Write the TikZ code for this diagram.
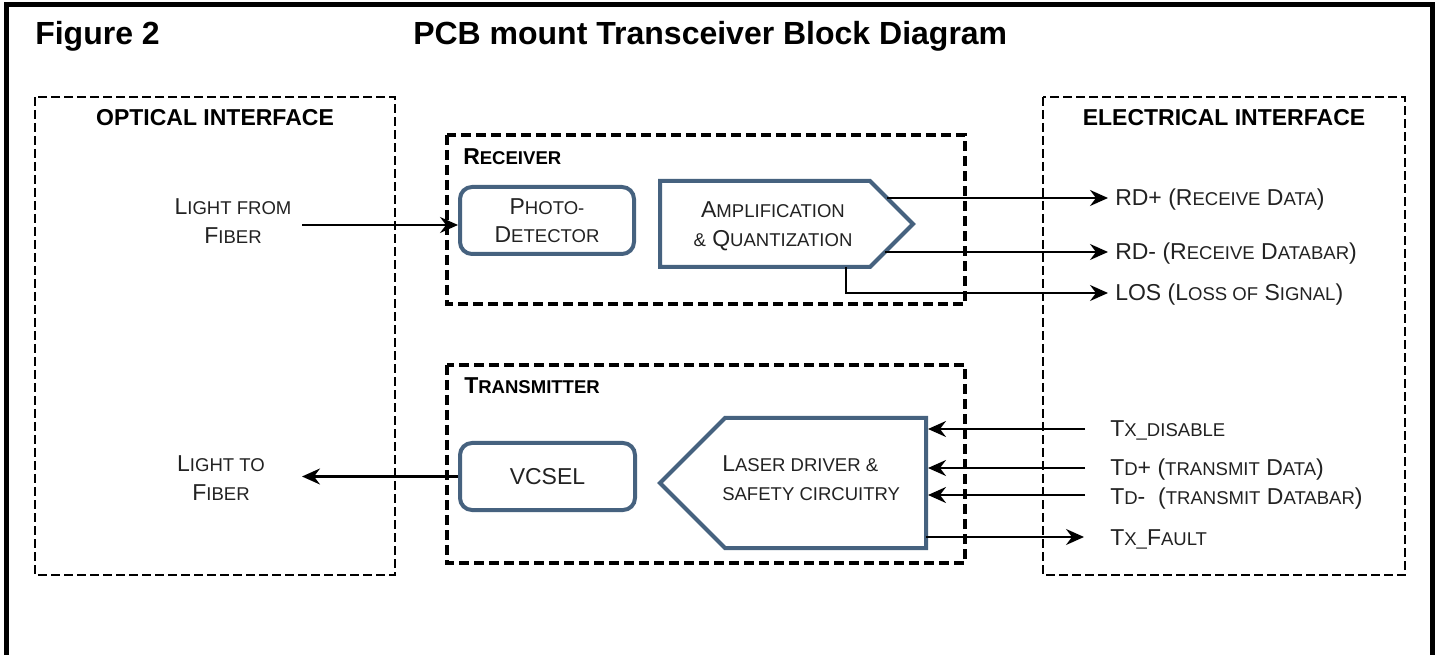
\documentclass[tikz,border=0pt]{standalone}
\usepackage{fontspec}
\setmainfont{Liberation Sans}
\usetikzlibrary{arrows.meta}
\definecolor{blk}{HTML}{46627F}
\definecolor{txt}{HTML}{222222}
\newcommand\Fn{\fontsize{17.25pt}{21.4pt}\selectfont}
\newcommand\sm[1]{{\fontsize{13.9pt}{21.4pt}\selectfont #1}}
\begin{document}
\begin{tikzpicture}[x=0.75pt,y=-0.75pt,
  frame/.style={line width=3.75pt},
  iface/.style={draw, line width=2pt, dash pattern=on 6.75pt off 3pt},
  sect/.style={draw, line width=3pt, dash pattern=on 7.5pt off 3.75pt},
  blockbox/.style={draw=blk, line width=3pt, rounded corners=9pt, fill=white, text=txt, font=\Fn, align=center, inner sep=0},
  blockshape/.style={draw=blk, line width=3pt, fill=white, line join=miter},
  blocktext/.style={text=txt, font=\Fn, inner sep=0},
  conn/.style={line width=1.6pt, -{Stealth[length=13.5pt,width=12pt,inset=4.5pt]}},
  lbl/.style={text=txt, font=\Fn, inner sep=0, anchor=base west},
  head/.style={text=black, font=\bfseries\Fn, inner sep=0},
  title/.style={text=black, font=\bfseries\fontsize{24pt}{28pt}\selectfont, inner sep=0, anchor=base west}]
\useasboundingbox (0,0) rectangle (1438,655);
\fill[white] (0,0) rectangle (1438,655);
% outer frame
\draw[frame] (6,655) -- (6,5) -- (1432,5) -- (1432,655);
\node[title] (fig) at (35,45) {Figure 2};
\node[title] (ttl) at (413,45) {PCB mount Transceiver Block Diagram};
% interface boxes
\draw[iface] (35,97) rectangle (395,575);
\draw[iface] (1043,97) rectangle (1405,575);
\node[head, anchor=base] (opth) at (215,126) {OPTICAL INTERFACE};
\node[head, anchor=base] (elth) at (1224,126) {ELECTRICAL INTERFACE};
% receiver / transmitter sections
\draw[sect] (447,135) rectangle (965,304);
\draw[sect] (447,365) rectangle (965,563);
\node[head, anchor=base west] (rxh) at (463,165) {R\sm{ECEIVER}};
\node[head, anchor=base west] (txh) at (464,394) {T\sm{RANSMITTER}};
% blocks
\node[blockbox, minimum width=130.5pt, minimum height=50.25pt] (pd) at (547,220.5) {P\sm{HOTO-}\\D\sm{ETECTOR}};
\node[blockbox, minimum width=131.25pt, minimum height=50.25pt] (vcsel) at (547.5,476.5) {VCSEL};
\draw[blockshape] (660,181) -- (870,181) -- (913,224) -- (870,267) -- (660,267) -- cycle;
\node[blocktext, align=center] (amp) at (773,226) {A\sm{MPLIFICATION}\\\sm{\&} Q\sm{UANTIZATION}};
\draw[blockshape] (660,483) -- (725,418) -- (926,418) -- (926,548) -- (725,548) -- cycle;
\node[blocktext, align=left, anchor=west] (ld) at (722,478) {L\sm{ASER DRIVER \&}\\\sm{SAFETY CIRCUITRY}};
% optical side labels
\node[blocktext, align=center] (lfrom) at (233,221) {L\sm{IGHT FROM}\\F\sm{IBER}};
\node[blocktext, align=center] (lto) at (221,478) {L\sm{IGHT TO}\\F\sm{IBER}};
\coordinate (lfin) at (302,225);
\coordinate (ltout) at (302,476.5);
\draw[conn] (lfin) -- (lfin -| pd.west);
\draw[conn] (vcsel.west) -- (ltout);
% receiver outputs
\coordinate (a1) at (887,198);
\coordinate (a2) at (885,252);
\coordinate (a3) at (846,267);
\coordinate (rdp) at (1108,198);
\coordinate (rdm) at (1108,252);
\coordinate (los) at (1108,293);
\draw[conn] (a1) -- (rdp);
\draw[conn] (a2) -- (rdm);
\draw[conn] (a3) |- (los);
\node[lbl] (rdpl) at (1115,206) {RD+ (R\sm{ECEIVE} D\sm{ATA})};
\node[lbl] (rdml) at (1115,260) {RD- (R\sm{ECEIVE} D\sm{ATABAR})};
\node[lbl] (losl) at (1115,301) {LOS (L\sm{OSS OF} S\sm{IGNAL})};
% transmitter inputs/outputs
\coordinate (t1s) at (1085,429);
\coordinate (t2s) at (1085,468);
\coordinate (t3s) at (1085,495);
\coordinate (t1e) at (928,429);
\coordinate (t2e) at (928,468);
\coordinate (t3e) at (928,495);
\coordinate (t4s) at (926,537);
\coordinate (t4e) at (1084,537);
\draw[conn] (t1s) -- (t1e);
\draw[conn] (t2s) -- (t2e);
\draw[conn] (t3s) -- (t3e);
\draw[conn] (t4s) -- (t4e);
\node[lbl] (t1l) at (1110,437) {T\sm{X\_DISABLE}};
\node[lbl] (t2l) at (1110,476) {T\sm{D}+ (\sm{TRANSMIT} D\sm{ATA})};
\node[lbl] (t3l) at (1110,504) {T\sm{D}-\ \ (\sm{TRANSMIT} D\sm{ATABAR})};
\node[lbl] (t4l) at (1110,545) {T\sm{X\_}F\sm{AULT}};
\end{tikzpicture}
\end{document}
